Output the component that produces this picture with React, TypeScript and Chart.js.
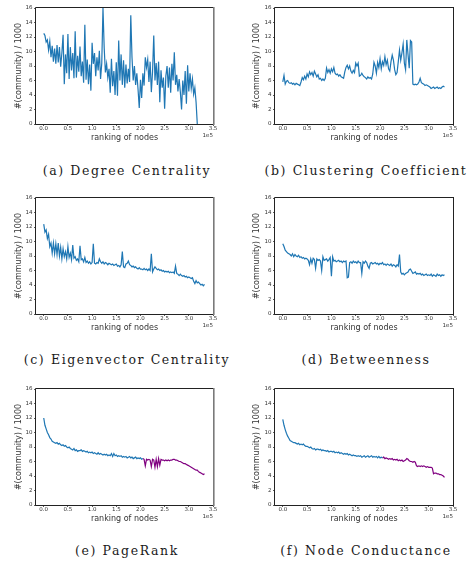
import React, { useEffect, useRef } from "react";
import { Chart, registerables } from "chart.js";

Chart.register(...registerables);

// sampling interval along the node ranking (nodes per sample)
const STEP = 2500;
const X_TICKS = [0, 50000, 100000, 150000, 200000, 250000, 300000, 350000];
const Y_TICKS = [0, 2, 4, 6, 8, 10, 12, 14, 16];
const X_MIN = -16000;
const X_MAX = 350000;
const BLUE = "#1f77b4";
const PURPLE = "#800080";

const degreeCentrality = [
  12.5, 12.2, 11.3, 11.6, 10.2, 11.4, 9.2, 10.8, 8.6, 10.4,
  8.3, 10.9, 8.5, 10.6, 7.9, 9.8, 12.3, 5.5, 9.6, 7.0,
  12.4, 6.2, 10.6, 7.4, 9.8, 6.3, 12.8, 6.4, 9.4, 7.2,
  10.7, 6.6, 8.6, 5.7, 13.7, 6.1, 8.9, 5.5, 8.2, 4.6,
  11.2, 8.3, 9.8, 6.6, 9.2, 7.4, 10.1, 6.2, 8.4, 16.0,
  10.5, 7.1, 8.3, 6.4, 7.6, 4.3, 9.0, 5.2, 7.3, 4.0,
  8.5, 3.9, 11.5, 6.0, 9.6, 5.4, 8.8, 5.0, 8.2, 5.6,
  7.6, 5.8, 15.0, 9.2, 6.0, 8.0, 5.4, 7.0, 4.8, 2.2,
  6.1, 3.6, 7.0, 5.3, 9.2, 7.8, 8.9, 5.8, 8.6, 4.4,
  7.2, 12.2, 6.0, 8.4, 5.4, 8.6, 3.0, 7.4, 5.0, 6.4,
  2.1, 6.6, 8.0, 5.0, 7.8, 4.3, 8.3, 6.0, 9.9, 5.4,
  6.8, 4.5, 6.2, 4.4, 2.0, 6.0, 4.0, 7.3, 2.8, 8.1,
  4.5, 7.0, 4.9, 6.2, 4.1, 5.0, 3.0, 0.0,
];

const clusteringCoefficient = [
  5.8, 6.7, 5.5, 5.9, 6.0, 5.7, 5.6, 5.7, 5.5, 5.6,
  5.4, 5.6, 5.5, 5.4, 5.3, 5.8, 6.4, 6.1, 6.6, 6.2,
  6.9, 6.5, 7.2, 6.8, 7.1, 6.6, 7.3, 6.9, 6.5, 6.8,
  6.2, 6.3, 6.0, 6.2, 6.0, 6.3, 7.7, 7.1, 7.5, 7.0,
  7.6, 7.2, 7.8, 7.0, 6.8, 6.9, 6.6, 6.8, 6.5, 6.4,
  6.3, 7.2, 7.8, 8.1, 7.6, 8.0, 7.3, 7.0, 7.4, 7.1,
  8.4, 8.0, 8.4, 6.6, 6.7, 7.0, 6.7, 6.5, 6.4, 6.2,
  6.5, 6.3, 6.4, 6.2, 6.9, 8.5, 8.0, 7.0, 8.5, 7.8,
  9.0, 7.6, 8.6, 8.1, 9.3, 8.2, 8.8, 7.6, 7.3, 8.6,
  9.5, 8.8, 7.5, 6.8, 7.1, 8.6, 10.2, 8.8, 9.8, 11.0,
  8.4, 7.5, 11.6, 9.6, 7.7, 11.5, 11.3, 5.5, 5.4, 5.5,
  5.4, 5.5, 5.8, 6.3, 5.7, 5.6, 5.5, 5.3, 5.4, 5.3,
  5.2, 5.1, 4.9, 5.0, 5.1, 4.9, 5.0, 5.1, 4.9, 5.0,
  4.9, 5.1, 5.2, 5.1,
];

const eigenvectorCentrality = [
  12.4, 11.3, 11.6, 10.4, 11.0, 9.3, 9.8, 8.4, 9.8, 8.3,
  9.7, 8.2, 9.8, 8.0, 9.2, 7.6, 9.0, 7.9, 8.6, 7.6,
  9.3, 7.8, 8.4, 7.5, 9.5, 7.7, 7.9, 7.4, 7.6, 7.2,
  9.4, 7.5, 7.6, 7.2, 7.8, 7.1, 7.3, 7.0, 7.2, 6.9,
  7.1, 9.7, 7.0, 6.9, 7.1, 7.0, 7.6, 7.2, 7.0, 7.2,
  6.9, 7.1, 7.0, 6.8, 7.0, 6.9, 6.8, 6.9, 6.7, 6.8,
  6.9, 6.6, 6.7, 6.5, 6.8, 8.6, 6.5, 6.4, 6.9, 7.0,
  7.3, 6.8, 6.7, 6.5, 6.6, 6.4, 6.5, 6.3, 6.2, 6.4,
  6.2, 6.2, 6.1, 6.3, 6.1, 6.2, 6.0, 6.2, 6.0, 8.3,
  5.8, 6.2, 6.5, 6.3, 6.1, 6.2, 6.0, 6.1, 5.9, 6.0,
  5.8, 5.9, 5.8, 5.9, 5.7, 5.8, 5.7, 5.8, 5.6, 6.6,
  5.6, 5.5, 5.3, 5.5, 5.3, 5.2, 5.3, 5.1, 5.2, 5.0,
  5.1, 5.0, 4.9, 5.0, 4.5, 4.2, 4.6, 4.3, 4.4, 4.2,
  4.0, 4.1, 3.9, 4.1,
];

const betweenness = [
  9.7, 9.3, 8.8, 8.6, 8.4, 8.3, 8.2, 8.0, 8.3, 7.9,
  8.2, 8.0, 7.9, 8.1, 7.8, 7.9, 7.7, 7.8, 7.6, 7.7,
  7.6, 7.4, 6.8, 7.6, 7.0, 7.7, 7.5, 6.3, 7.6, 7.4,
  7.5, 7.3, 6.0, 7.9, 7.4, 7.5, 7.6, 7.3, 7.5, 7.8,
  5.2, 7.9, 7.3, 7.4, 7.2, 7.3, 7.4, 7.2, 7.3, 7.1,
  7.3, 7.2, 7.3, 5.0, 5.1, 7.1, 7.2, 7.0, 7.3, 7.1,
  7.2, 7.0, 7.3, 7.1, 7.1, 5.6, 7.2, 7.0, 7.3, 7.1,
  6.6, 6.3, 7.0, 7.1, 6.9, 7.0, 7.1, 6.9, 7.0, 6.8,
  7.0, 6.9, 7.1, 6.8, 6.9, 6.7, 6.9, 6.8, 6.7, 6.9,
  6.6, 6.8, 6.7, 6.5, 6.8, 6.6, 8.2, 5.8, 5.5, 5.6,
  5.4, 5.6, 5.7, 5.8, 6.1, 6.2, 5.9, 5.6, 5.7, 5.8,
  5.5, 5.6, 5.5, 5.6, 5.4, 5.5, 5.3, 5.4, 5.5, 5.3,
  5.4, 5.3, 5.5, 5.2, 5.4, 5.3, 5.2, 5.5, 5.3, 5.4,
  5.2, 5.4, 5.3, 5.4,
];

// sample index where the purple (tail) part of the last two panels begins
const TAIL_START = 82;

const pageRankHead = [
  12.0, 11.0, 10.5, 10.0, 9.7, 9.3, 9.1, 8.8, 8.7, 8.6,
  8.5, 8.6, 8.4, 8.5, 8.3, 8.2, 8.3, 8.1, 8.2, 8.0,
  7.9, 8.0, 7.8, 7.7, 7.6, 7.8, 7.5, 7.6, 7.4, 7.5,
  7.5, 7.6, 7.4, 7.5, 7.4, 7.3, 7.4, 7.2, 7.3, 7.2,
  7.3, 7.1, 7.2, 7.1, 7.0, 7.2, 7.0, 7.1, 7.0, 6.9,
  7.0, 6.9, 7.0, 6.8, 6.9, 6.8, 7.1, 6.7, 7.1, 6.8,
  6.9, 6.7, 6.8, 6.7, 6.8, 6.6, 6.7, 6.6, 6.7, 6.5,
  6.6, 6.7, 6.5, 6.6, 6.4, 6.5, 6.6, 6.4, 6.5, 6.4,
  6.5, 6.3, 6.4,
];
const pageRankTail = [
  6.4, 6.3, 5.4, 6.3, 6.2, 6.3, 6.2, 5.3, 6.3, 6.2,
  5.2, 6.3, 5.3, 6.4, 5.5, 6.3, 6.2, 6.2, 6.1, 6.2,
  6.1, 6.2, 6.1, 6.2, 6.2, 6.3, 6.3, 6.2, 6.2, 6.1,
  6.0, 6.0, 5.9, 5.8, 5.7, 5.7, 5.6, 5.5, 5.4, 5.3,
  5.2, 5.1, 5.0, 4.9, 4.8, 4.8, 4.6, 4.5, 4.4, 4.3,
  4.2, 4.3,
];

const conductanceHead = [
  11.8, 11.0, 10.4, 9.9, 9.5, 9.2, 8.9, 8.8, 8.7, 8.6,
  8.6, 8.5, 8.4, 8.5, 8.3, 8.4, 8.3, 8.4, 8.2, 8.1,
  8.1, 8.0, 7.9, 8.0, 7.8, 7.7, 7.8, 7.6, 7.7, 7.7,
  7.6, 7.7, 7.5, 7.6, 7.5, 7.5, 7.4, 7.5, 7.3, 7.4,
  7.4, 7.3, 7.4, 7.2, 7.3, 7.2, 7.3, 7.1, 7.2, 7.1,
  7.0, 7.1, 7.0, 7.1, 6.9, 7.0, 6.9, 6.8, 6.9, 6.8,
  6.8, 6.7, 6.8, 6.7, 6.8, 6.6, 6.7, 6.8, 6.6, 6.7,
  6.8, 6.6, 6.7, 6.8, 6.6, 6.7, 6.6, 6.7, 6.5, 6.7,
  6.5, 6.6, 6.5,
];
const conductanceTail = [
  6.5, 6.6, 6.4, 6.5, 6.4, 6.3, 6.4, 6.3, 6.4, 6.2,
  6.3, 6.2, 6.3, 6.1, 6.2, 6.1, 6.2, 6.0, 6.1, 6.2,
  6.4, 6.3, 6.1, 6.0, 6.0, 5.9, 6.0, 5.9, 5.4, 5.3,
  5.4, 5.3, 5.4, 5.3, 5.4, 5.3, 5.2, 5.3, 5.2, 5.2,
  5.2, 5.1, 4.3, 4.4, 4.4, 4.3, 4.3, 4.2, 4.2, 4.1,
  4.0, 3.8,
];

const CAPTIONS = [
  "(a) Degree Centrality",
  "(b) Clustering Coefficient",
  "(c) Eigenvector Centrality",
  "(d) Betweenness",
  "(e) PageRank",
  "(f) Node Conductance",
];

const Y_TITLE = "#(community) / 1000";
const X_TITLE = "ranking of nodes";
const SANS = "'DejaVu Sans', sans-serif";

type Series = { values: number[]; start: number; color: string };
type PanelDef = {
  left: number;
  top: number;
  right: boolean;
  series: Series[];
  caption: string;
  captionTop: number;
};

const framePlugin = {
  id: "frame",
  afterDraw(chart: any, _args: any, opts: any) {
    const { ctx, chartArea: a } = chart;
    ctx.save();
    ctx.strokeStyle = "#222";
    ctx.lineWidth = 1;
    ctx.beginPath();
    ctx.moveTo(a.right, a.top - 0.5);
    ctx.lineTo(a.left - 0.5, a.top - 0.5);
    ctx.lineTo(a.left - 0.5, a.bottom + 0.5);
    ctx.lineTo(a.right, a.bottom + 0.5);
    ctx.stroke();
    ctx.beginPath();
    ctx.strokeStyle = opts.rightColor;
    ctx.lineWidth = opts.rightWidth;
    ctx.moveTo(a.right + opts.rightWidth / 2, a.top - 1);
    ctx.lineTo(a.right + opts.rightWidth / 2, a.bottom + 1);
    ctx.stroke();
    ctx.fillStyle = "#333";
    ctx.font = `5.5px ${SANS}`;
    ctx.textAlign = "right";
    ctx.textBaseline = "middle";
    ctx.fillText("1e5", a.right, a.bottom + 12);
    ctx.restore();
  },
};

function Panel({ p }: { p: PanelDef }) {
  const ref = useRef<HTMLCanvasElement>(null);
  useEffect(() => {
    const yWidth = p.right ? 39 : 36;
    const padRight = p.right ? 19 : 23;
    const chart = new Chart(ref.current as HTMLCanvasElement, {
      type: "line",
      data: {
        datasets: p.series.map((s) => ({
          data: s.values.map((v, i) => ({ x: (s.start + i) * STEP, y: v })),
          borderColor: s.color,
          borderWidth: 1.2,
          pointRadius: 0,
          tension: 0,
          fill: false,
        })),
      },
      options: {
        animation: false,
        responsive: false,
        maintainAspectRatio: false,
        layout: { padding: { left: 0, top: 8, right: padRight, bottom: 0 } },
        plugins: {
          legend: { display: false },
          tooltip: { enabled: false },
          frame: {
            rightColor: p.right ? "#222" : "#7a7a7a",
            rightWidth: p.right ? 1 : 1.6,
          },
        } as any,
        scales: {
          x: {
            type: "linear",
            min: X_MIN,
            max: X_MAX,
            afterBuildTicks: (s: any) => {
              s.ticks = X_TICKS.map((value) => ({ value }));
            },
            afterFit: (s: any) => {
              s.height = 19;
            },
            ticks: {
              callback: (v: any) => (Number(v) / 1e5).toFixed(1),
              font: { family: SANS, size: 5.5 },
              color: "#333",
              padding: -0.5,
              maxRotation: 0,
              autoSkip: false,
            },
            grid: {
              drawOnChartArea: false,
              drawTicks: true,
              tickLength: 2,
              color: "#333",
              lineWidth: 0.8,
            },
            border: { display: false },
            title: {
              display: true,
              text: X_TITLE,
              font: { family: SANS, size: 8 },
              color: "#333",
              padding: 0,
            },
          },
          y: {
            type: "linear",
            min: 0,
            max: 16,
            afterBuildTicks: (s: any) => {
              s.ticks = Y_TICKS.map((value) => ({ value }));
            },
            afterFit: (s: any) => {
              s.width = yWidth;
            },
            ticks: {
              font: { family: SANS, size: 5.5 },
              color: "#333",
              padding: 1.5,
              autoSkip: false,
            },
            grid: {
              drawOnChartArea: false,
              drawTicks: true,
              tickLength: 2,
              color: "#333",
              lineWidth: 0.8,
            },
            border: { display: false },
            title: {
              display: true,
              text: Y_TITLE,
              font: { family: SANS, size: 8 },
              color: "#333",
              padding: { top: p.right ? 16.5 : 13.7, bottom: 0 },
            },
          },
        },
      } as any,
      plugins: [framePlugin],
    });
    return () => chart.destroy();
  }, []);
  return (
    <>
      <canvas
        ref={ref}
        width={236}
        height={143}
        style={{ position: "absolute", left: p.left, top: p.top, width: 236, height: 143 }}
      />
      <div
        style={{
          position: "absolute",
          left: p.right ? 248 : 9,
          top: p.captionTop,
          width: 236,
          textAlign: "center",
          fontFamily: "'DejaVu Serif', serif",
          fontSize: 12.5,
          letterSpacing: "1.6px",
          lineHeight: "14px",
          color: "#1a1a1a",
          whiteSpace: "nowrap",
        }}
      >
        {p.caption}
      </div>
    </>
  );
}

const PANELS: PanelDef[] = [
  { left: 0, top: 0, right: false, series: [{ values: degreeCentrality, start: 0, color: BLUE }], caption: CAPTIONS[0], captionTop: 164 },
  { left: 236, top: 0, right: true, series: [{ values: clusteringCoefficient, start: 0, color: BLUE }], caption: CAPTIONS[1], captionTop: 164 },
  { left: 0, top: 190, right: false, series: [{ values: eigenvectorCentrality, start: 0, color: BLUE }], caption: CAPTIONS[2], captionTop: 353 },
  { left: 236, top: 190, right: true, series: [{ values: betweenness, start: 0, color: BLUE }], caption: CAPTIONS[3], captionTop: 353 },
  {
    left: 0, top: 381, right: false,
    series: [
      { values: pageRankHead, start: 0, color: BLUE },
      { values: pageRankTail, start: TAIL_START, color: PURPLE },
    ],
    caption: CAPTIONS[4], captionTop: 544,
  },
  {
    left: 236, top: 381, right: true,
    series: [
      { values: conductanceHead, start: 0, color: BLUE },
      { values: conductanceTail, start: TAIL_START, color: PURPLE },
    ],
    caption: CAPTIONS[5], captionTop: 544,
  },
];

export default function App() {
  return (
    <div style={{ position: "absolute", left: 0, top: 0, width: 472, height: 561, background: "#fff", overflow: "hidden" }}>
      {PANELS.map((p, i) => (
        <Panel key={i} p={p} />
      ))}
    </div>
  );
}
